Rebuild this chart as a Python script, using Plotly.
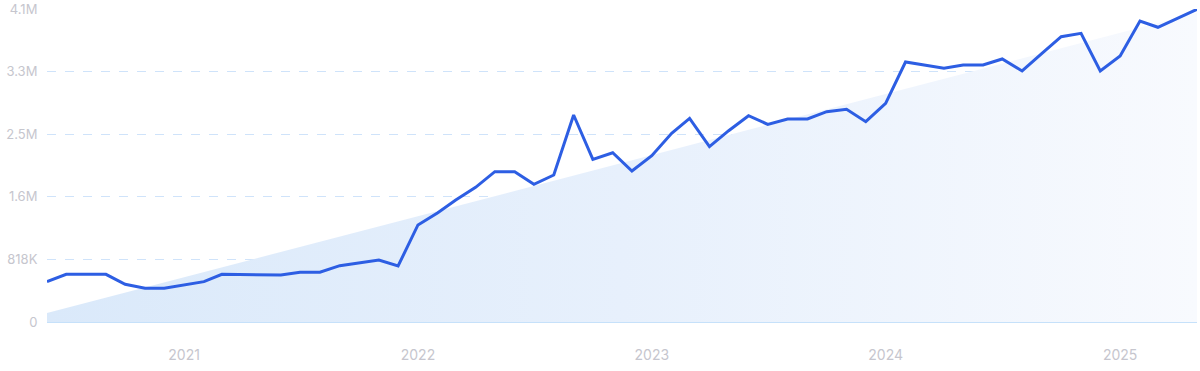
import plotly.graph_objects as go
import pandas as pd

# Monthly values, Jun 2020 .. May 2025
months = pd.date_range("2020-06-01", "2025-05-01", freq="MS")
values = [
    527000, 623000, 623000, 623000, 493000, 440000, 440000, 483000, 527000, 623000,
    623000, 614000, 614000, 650000, 650000, 736000, 775000, 810000, 732000, 1268000,
    1428000, 1594000, 1760000, 1964000, 1964000, 1799000, 1921000, 2705000, 2126000, 2212000,
    1973000, 2173000, 2465000, 2661000, 2291000, 2500000, 2696000, 2583000, 2653000, 2653000,
    2748000, 2779000, 2618000, 2858000, 3397000, 3354000, 3315000, 3358000, 3358000, 3437000,
    3280000, 3511000, 3728000, 3772000, 3280000, 3476000, 3933000, 3851000, 3968000, 4086000,
]

# Trend line end points (first and last month)
trend_dates = [months[0], months[-1]]
trend_values = [118000, 4040000]

y_tickvals = [0, 818000, 1636000, 2454000, 3272000, 4090000]
y_ticktext = ["0", "818K", "1.6M", "2.5M", "3.3M", "4.1M"]
x_tickvals = ["2021-01-01", "2022-01-01", "2023-01-01", "2024-01-01", "2025-01-01"]
x_ticktext = ["2021", "2022", "2023", "2024", "2025"]

fig = go.Figure()
fig.add_trace(go.Scatter(
    x=trend_dates, y=trend_values, mode="lines",
    line=dict(width=0, color="rgba(0,0,0,0)"),
    fill="tozeroy",
    fillgradient=dict(
        type="horizontal",
        colorscale=[[0, "rgba(218,233,250,1)"], [0.5, "rgba(231,240,252,1)"], [1, "rgba(248,250,254,1)"]],
    ),
    hoverinfo="skip", showlegend=False,
))
fig.add_trace(go.Scatter(
    x=months, y=values, mode="lines",
    line=dict(color="#2d5ee3", width=3),
    showlegend=False,
))

fig.update_layout(
    width=1200, height=371,
    margin=dict(l=47, r=3, t=9, b=49, autoexpand=False),
    paper_bgcolor="white", plot_bgcolor="white",
    font=dict(family="Inter, Roboto, sans-serif", color="#c6c6ce"),
)
fig.update_xaxes(
    range=[months[0], months[-1]],
    tickvals=x_tickvals, ticktext=x_ticktext,
    tickfont=dict(size=14, color="#c6c6ce"),
    showgrid=False, zeroline=False, showline=False,
    ticks="outside", ticklen=20, tickcolor="rgba(0,0,0,0)",
    automargin=False,
)
fig.update_yaxes(
    range=[0, 4090000],
    tickvals=y_tickvals, ticktext=y_ticktext,
    tickfont=dict(size=13, color="#c6c6ce"),
    showgrid=True, gridcolor="#cfe3fa", griddash="dash", gridwidth=1,
    zeroline=True, zerolinecolor="#c6e1fa", zerolinewidth=1.5,
    showline=False,
    ticks="outside", ticklen=6, tickcolor="rgba(0,0,0,0)",
    automargin=False,
)
fig.write_html(
    "out.html",
    config={"displayModeBar": False},
    post_script="document.body.style.margin='0';document.body.style.overflow='hidden';",
)
